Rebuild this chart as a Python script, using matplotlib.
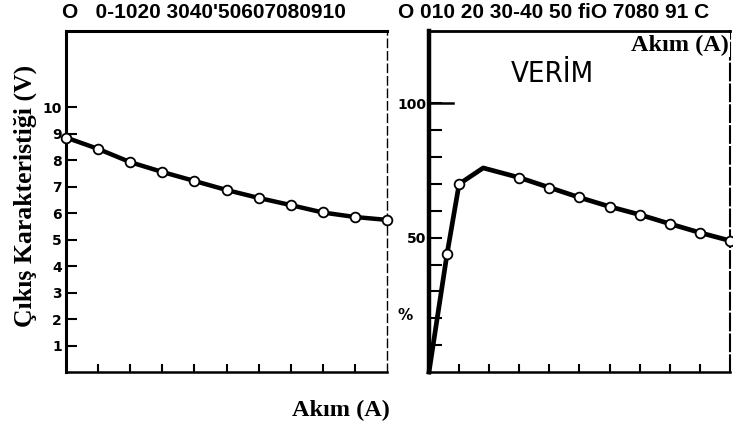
import matplotlib.pyplot as plt

plt.rcParams['font.family'] = ['DejaVu Sans']

# sol grafik: çıkış karakteristiği
akim_sol = [0, 10, 20, 30, 40, 50, 60, 70, 80, 90, 100]
gerilim = [8.85, 8.42, 7.92, 7.55, 7.21, 6.87, 6.57, 6.30, 6.02, 5.85, 5.74]
sol_tick_deg = [1, 2, 3, 4, 5, 6, 7, 8, 9, 10]
sol_tick_yazi = ['1', '2', '3', '4', '5', '6', '7', '8', '9', '10']

# sağ grafik: verim
akim_sag = [0, 6, 10, 18, 30, 40, 50, 60, 70, 80, 90, 100]
verim = [0, 44, 70, 76, 72.4, 68.7, 65.0, 61.6, 58.6, 55.2, 51.9, 48.9]
verim_tick_deg = [10, 20, 30, 40, 50, 60, 70, 80, 90, 100]

x_tick_deg = [10, 20, 30, 40, 50, 60, 70, 80, 90]

ust_yazi_1 = "O   0-1020 3040'50607080910"
ust_yazi_2 = "O 010 20 30-40 50 fiO 7080 91 C"

fig = plt.figure(figsize=(7.33, 4.34), dpi=100)
ax1 = fig.add_axes([66 / 733, 1 - 372 / 434, 321 / 733, 341 / 434])
ax2 = fig.add_axes([429 / 733, 1 - 372 / 434, 301 / 733, 341 / 434])

# sol eksen
ax1.plot(akim_sol, gerilim, color='black', lw=3.2, marker='o', ms=7,
         mfc='white', mec='black', mew=1.3, zorder=3, clip_on=False)
ax1.set_xlim(0, 100)
ax1.set_ylim(0, 12.87)
ax1.set_yticks(sol_tick_deg)
ax1.set_yticklabels(sol_tick_yazi, fontsize=10, fontweight='bold')
ax1.set_xticks(x_tick_deg)
ax1.set_xticklabels([])
ax1.tick_params(axis='y', direction='in', length=8, width=1.5, pad=3)
ax1.tick_params(axis='x', direction='in', length=6, width=1.5)
ax1.spines['left'].set_linewidth(2.2)
ax1.spines['top'].set_linewidth(2.2)
ax1.spines['bottom'].set_linewidth(1.8)
ax1.spines['right'].set_linewidth(1.0)
ax1.spines['right'].set_linestyle((0, (6, 3)))

# sağ eksen
ax2.plot(akim_sag, verim, color='black', lw=3.4, zorder=3, clip_on=False)
ax2.plot([akim_sag[i] for i in (1, 2, 4, 5, 6, 7, 8, 9, 10, 11)],
         [verim[i] for i in (1, 2, 4, 5, 6, 7, 8, 9, 10, 11)],
         ls='none', marker='o', ms=7, mfc='white', mec='black', mew=1.3,
         zorder=4, clip_on=False)
ax2.set_xlim(0, 100)
ax2.set_ylim(0, 127)
ax2.set_yticks(verim_tick_deg)
ax2.set_yticklabels(['' if v not in (50, 100) else str(v) for v in verim_tick_deg],
                    fontsize=10, fontweight='bold')
ax2.set_xticks(x_tick_deg)
ax2.set_xticklabels([])
ax2.tick_params(axis='y', direction='in', length=9, width=1.5, pad=2)
ax2.tick_params(axis='x', direction='in', length=6, width=1.5)
ax2.spines['left'].set_linewidth(3.2)
ax2.spines['top'].set_linewidth(2.0)
ax2.spines['bottom'].set_linewidth(1.8)
ax2.spines['right'].set_linewidth(1.5)
ax2.spines['right'].set_linestyle((0, (8, 2)))
ax2.plot([0, 8], [100, 100], color='black', lw=1.8, clip_on=False)

ax2.text(41, 111, 'VERİM', fontsize=21, ha='center', va='center',
         fontstretch='condensed')
ax2.text(-8, 21, '%', fontsize=11, fontweight='bold', ha='center', va='center')

# başlıklar ve yazılar
fig.text(25 / 733, 1 - 196 / 434, 'Çıkış Karakteristiği (V)', rotation=90,
         fontsize=18.5, fontweight='bold', family='Liberation Serif',
         ha='center', va='center')
fig.text(341 / 733, 1 - 410 / 434, 'Akım (A)', fontsize=17.5, fontweight='bold',
         family='Liberation Serif', ha='center', va='center')
fig.text(680 / 733, 1 - 45 / 434, 'Akım (A)', fontsize=17.5, fontweight='bold',
         family='Liberation Serif', ha='center', va='center',
         bbox=dict(facecolor='white', edgecolor='none', pad=1))
fig.text(62 / 733, 1 - 12 / 434, ust_yazi_1, fontsize=15, fontweight='bold',
         family='Liberation Sans', ha='left', va='center')
fig.text(398 / 733, 1 - 12 / 434, ust_yazi_2, fontsize=15, fontweight='bold',
         family='Liberation Sans', ha='left', va='center')

fig.savefig('out.png', dpi=100)
